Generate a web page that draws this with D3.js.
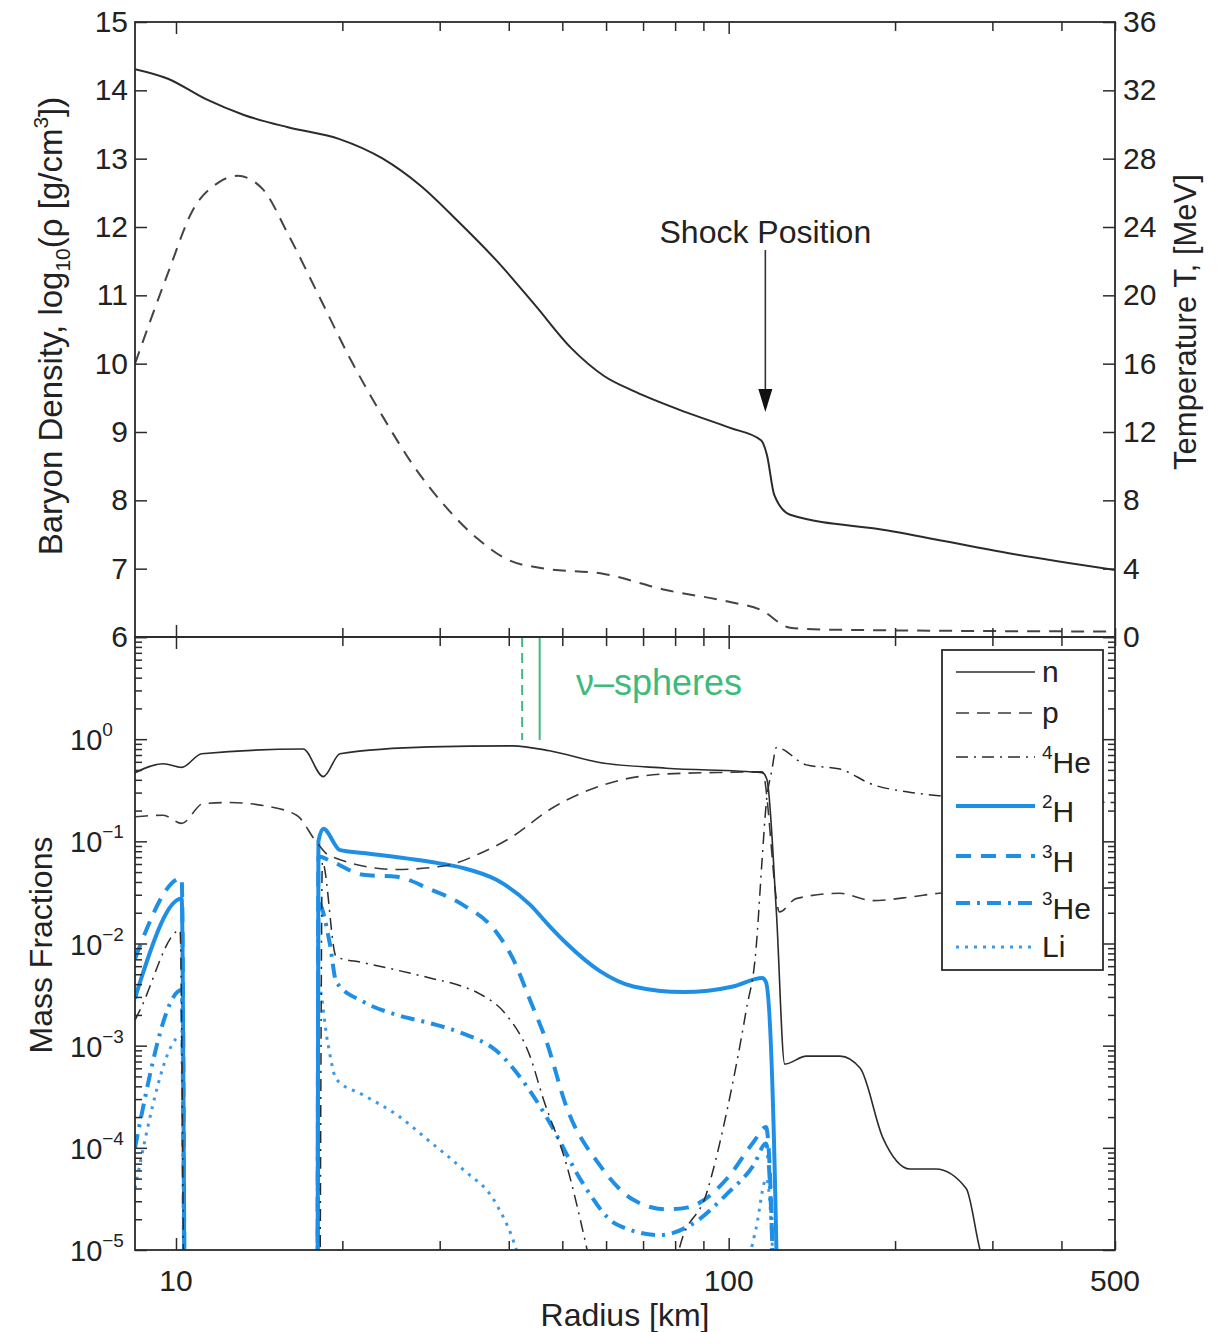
<!DOCTYPE html>
<html>
<head>
<meta charset="utf-8">
<script src="https://cdn.jsdelivr.net/npm/d3@7"></script>
<style>
  body { margin: 0; background: #fff; }
  text { font-family: "Liberation Sans", Arial, Helvetica, sans-serif; fill: #222; }
</style>
</head>
<body>
<svg id="chart" width="1222" height="1332"></svg>
<script>
// ---------------- DATA ----------------
// Top panel: baryon density (log10 rho) vs radius
const densityRadius = [8.43, 9.67, 11.33, 13.27, 15.94, 19.71, 23.67, 27.74, 32.5, 38.1, 44.6, 52.0, 59.5, 67.7, 83.6, 100.6, 114.4, 117.3, 120.9, 129.2, 194, 329, 500];
const densityLog    = [14.31, 14.17, 13.87, 13.64, 13.46, 13.29, 13.0, 12.6, 12.07, 11.5, 10.86, 10.22, 9.82, 9.59, 9.29, 9.06, 8.88, 8.66, 8.08, 7.79, 7.56, 7.21, 6.98];

// Top panel: temperature (MeV) vs radius
const tempRadius = [8.43, 9.67, 10.73, 11.93, 12.92, 14.37, 15.94, 18.18, 20.73, 23.67, 27.0, 30.8, 35.1, 40.0, 45.7, 59.5, 77.0, 100.6, 114.4, 129.2, 149, 500];
const temperature = [16.0, 21.3, 25.0, 26.6, 27.0, 26.2, 23.6, 19.9, 16.2, 12.9, 9.95, 7.6, 5.76, 4.5, 4.04, 3.69, 2.75, 2.05, 1.58, 0.54, 0.43, 0.32];

// Bottom panel: mass fractions vs radius
const nRadius = [8.43, 9.48, 10.24, 11.13, 16.99, 18.47, 19.81, 28.8, 40.6, 47.4, 58.4, 77.1, 115.0, 117.3, 122, 126.3, 138.2, 159, 173, 190, 213, 237, 269, 285, 305];
const nFrac   = [0.47, 0.575, 0.53, 0.72, 0.80, 0.43, 0.72, 0.84, 0.86, 0.77, 0.59, 0.52, 0.47, 0.40, 0.020, 6.6e-4, 7.9e-4, 7.9e-4, 6.0e-4, 1.26e-4, 6.2e-5, 6.2e-5, 4.0e-5, 1.0e-5, 4e-6];

const pRadius = [8.43, 9.48, 10.24, 11.2, 12.52, 14.38, 16.53, 17.96, 18.98, 25.06, 30.85, 35.46, 40.7, 47.4, 58.4, 77.1, 101.7, 115, 123.6, 132.4, 159, 182, 216, 240, 500];
const pFrac   = [0.174, 0.18, 0.15, 0.234, 0.24, 0.224, 0.18, 0.098, 0.072, 0.053, 0.058, 0.076, 0.112, 0.204, 0.347, 0.457, 0.474, 0.479, 0.0204, 0.0275, 0.031, 0.0263, 0.0288, 0.031, 0.035];

const he4Radius = [8.43, 8.61, 10.17, 10.45, 18.1, 18.4, 19.5, 21.8, 28.8, 33.0, 35.5, 39.6, 43.7, 46.2, 50.9, 55.3, 58, 78, 81.3, 91.2, 99.6, 107.6, 112.0, 115, 116.8, 119.8, 122, 138.2, 159, 182, 210, 240, 500];
const he4Frac   = [1.78e-3, 2.24e-3, 0.0135, 1e-8, 1e-8, 0.063, 7.4e-3, 6.5e-3, 4.6e-3, 3.8e-3, 3.2e-3, 2.0e-3, 7.9e-4, 3.0e-4, 6.8e-5, 1.07e-5, 3.2e-6, 3.2e-6, 1.0e-5, 3.6e-5, 2.5e-4, 2.24e-3, 8.5e-3, 0.069, 0.22, 0.51, 0.83, 0.56, 0.51, 0.36, 0.305, 0.28, 0.24];

const h2Radius = [8.43, 8.61, 10.24, 10.45, 18.0, 18.1, 18.47, 19.81, 21.8, 28.8, 33.0, 38.0, 43.7, 47.4, 50.9, 58.4, 67.2, 82.8, 101.8, 115, 116.8, 122, 123];
const h2Frac   = [2.9e-3, 4.2e-3, 0.0275, 1e-8, 1e-8, 0.1, 0.133, 0.082, 0.077, 0.063, 0.055, 0.042, 0.024, 0.0148, 0.01, 5.4e-3, 3.8e-3, 3.35e-3, 3.8e-3, 4.6e-3, 4.2e-3, 1e-5, 1e-8];

const h3Radius = [8.43, 10.24, 10.45, 18.0, 18.1, 19.2, 21.8, 25.1, 28.8, 33.0, 38.0, 40.7, 43.7, 46.8, 50.9, 58.4, 67.2, 77.1, 84, 99.6, 111, 116.8, 120, 121];
const h3Frac   = [7.1e-3, 0.0437, 1e-8, 1e-8, 0.071, 0.063, 0.047, 0.045, 0.034, 0.024, 0.0129, 7.1e-3, 2.8e-3, 1.1e-3, 2.5e-4, 6.8e-5, 3.1e-5, 2.5e-5, 2.6e-5, 5.1e-5, 1.15e-4, 1.6e-4, 1e-5, 1e-8];

const he3Radius = [8.43, 10.24, 10.45, 18.0, 18.1, 18.98, 19.5, 21.8, 25.1, 28.8, 33.0, 38.0, 43.7, 47.4, 54.6, 62.5, 75.1, 86, 99.6, 111, 116.8, 120, 121];
const he3Frac   = [1e-4, 3.5e-3, 1e-8, 1e-8, 0.025, 0.01, 4.2e-3, 2.7e-3, 2.0e-3, 1.66e-3, 1.32e-3, 8.9e-4, 3.6e-4, 1.78e-4, 4.4e-5, 1.8e-5, 1.4e-5, 1.8e-5, 3.6e-5, 6.8e-5, 1.1e-4, 1e-5, 1e-8];

const liRadius = [8.43, 10.24, 10.45, 18.0, 18.1, 18.8, 19.5, 21.8, 25.1, 28.8, 33.0, 38.0, 41.3, 44, 100, 112, 117, 120, 121];
const liFrac   = [4e-5, 1.26e-3, 1e-8, 1e-8, 4e-3, 1.1e-3, 4.7e-4, 3.3e-4, 2.1e-4, 1.15e-4, 6.2e-5, 2.8e-5, 1e-5, 2.5e-6, 2.5e-6, 1.6e-5, 5e-5, 1e-5, 1e-8];

// neutrino spheres (radius, km)
const nuSphereRadii = [42.3, 45.5];
const shockRadius = 116.5;

// tick values / labels
const densityTicks = [6, 7, 8, 9, 10, 11, 12, 13, 14, 15];
const tempTicks = [0, 4, 8, 12, 16, 20, 24, 28, 32, 36];
const massDecades = [1e-5, 1e-4, 1e-3, 1e-2, 1e-1, 1, 10];
const massLabelExps = ["0", "\u22121", "\u22122", "\u22123", "\u22124", "\u22125"];
const radiusMajor = [10, 100];
const radiusMinor = [20, 30, 40, 50, 60, 70, 80, 90, 200, 300, 400, 500];
const radiusLabels = [10, 100, 500];

const legendItems = [
  { key: "n",   sup: "",  base: "n" },
  { key: "p",   sup: "",  base: "p" },
  { key: "he4", sup: "4", base: "He" },
  { key: "h2",  sup: "2", base: "H" },
  { key: "h3",  sup: "3", base: "H" },
  { key: "he3", sup: "3", base: "He" },
  { key: "li",  sup: "",  base: "Li" }
];

// ---------------- LAYOUT & STYLE ----------------
const L = 135, R = 1115, T1 = 22, B1 = 637, B2 = 1250;
const BLACK = "#2b2b2b", BLUE = "#1f8fe6", GREEN = "#3dbb7c";

const styles = {
  n:   { color: BLACK, width: 1.6, dash: null },
  p:   { color: "#3a3a3a", width: 1.6, dash: "13,8" },
  he4: { color: BLACK, width: 1.5, dash: "12,6,2,6" },
  h2:  { color: BLUE, width: 4, dash: null },
  h3:  { color: BLUE, width: 4, dash: "15,10" },
  he3: { color: BLUE, width: 4, dash: "14,7,3,7" },
  li:  { color: "#3a9ae8", width: 3, dash: "3,6" }
};

const svg = d3.select("#chart");

const x = d3.scaleLog().domain([8.43, 500]).range([L, R]);
const yRho = d3.scaleLinear().domain([6, 15]).range([B1, T1]);
const yT = d3.scaleLinear().domain([0, 36]).range([B1, T1]);
const yM = d3.scaleLog().domain([1e-5, 10]).range([B2, B1]);

const defs = svg.append("defs");
defs.append("clipPath").attr("id", "clipTop").append("rect")
  .attr("x", L).attr("y", T1).attr("width", R - L).attr("height", B1 - T1);
defs.append("clipPath").attr("id", "clipBot").append("rect")
  .attr("x", L).attr("y", B1).attr("width", R - L).attr("height", B2 - B1);

function zip(a, b) { return a.map((v, i) => [v, b[i]]); }

// ---------------- TOP PANEL ----------------
const topG = svg.append("g").attr("clip-path", "url(#clipTop)");
const lineRho = d3.line().x(d => x(d[0])).y(d => yRho(d[1])).curve(d3.curveMonotoneX);
const lineT = d3.line().x(d => x(d[0])).y(d => yT(d[1])).curve(d3.curveMonotoneX);

topG.append("path").datum(zip(densityRadius, densityLog))
  .attr("d", lineRho).attr("fill", "none").attr("stroke", BLACK).attr("stroke-width", 2);
topG.append("path").datum(zip(tempRadius, temperature))
  .attr("d", lineT).attr("fill", "none").attr("stroke", "#444").attr("stroke-width", 2)
  .attr("stroke-dasharray", "13,9");

// ---------------- BOTTOM PANEL ----------------
const botG = svg.append("g").attr("clip-path", "url(#clipBot)");
const lineM = d3.line().x(d => x(d[0])).y(d => yM(d[1])).curve(d3.curveMonotoneX);

const series = [
  { key: "li",  r: liRadius,  v: liFrac },
  { key: "he3", r: he3Radius, v: he3Frac },
  { key: "h3",  r: h3Radius,  v: h3Frac },
  { key: "h2",  r: h2Radius,  v: h2Frac },
  { key: "he4", r: he4Radius, v: he4Frac },
  { key: "p",   r: pRadius,   v: pFrac },
  { key: "n",   r: nRadius,   v: nFrac }
];
series.forEach(s => {
  const st = styles[s.key];
  botG.append("path").datum(zip(s.r, s.v))
    .attr("d", lineM).attr("fill", "none")
    .attr("stroke", st.color).attr("stroke-width", st.width)
    .attr("stroke-dasharray", st.dash)
    .attr("stroke-linejoin", "round");
});

// neutrino spheres
nuSphereRadii.forEach((r, i) => {
  svg.append("line").attr("x1", x(r)).attr("x2", x(r)).attr("y1", B1).attr("y2", B1 + 103)
    .attr("stroke", GREEN).attr("stroke-width", 2)
    .attr("stroke-dasharray", i === 0 ? "10,6" : null);
});
svg.append("text").attr("x", 576).attr("y", 695).attr("font-size", 36)
  .style("fill", GREEN).text("\u03bd\u2013spheres");

// ---------------- AXES ----------------
function styleAxis(g, fs) {
  g.select(".domain").remove();
  g.selectAll(".tick line").attr("stroke", BLACK).attr("stroke-width", 1.5);
  g.attr("font-size", fs).attr("font-family", "Liberation Sans, Arial, sans-serif");
  g.selectAll("text").style("fill", "#222");
}

// top panel left (density)
svg.append("g").attr("transform", `translate(${L},0)`)
  .call(d3.axisLeft(yRho).tickValues(densityTicks).tickSize(-12).tickPadding(7).tickFormat(d3.format("d")))
  .call(g => styleAxis(g, 30));
// top panel right (temperature)
svg.append("g").attr("transform", `translate(${R},0)`)
  .call(d3.axisRight(yT).tickValues(tempTicks).tickSize(-12).tickPadding(8).tickFormat(d3.format("d")))
  .call(g => styleAxis(g, 30));

// x ticks along the four horizontal edges
[[T1, "top"], [B1, "bottom"], [B1, "top"], [B2, "bottom"]].forEach(([yy, side]) => {
  const mk = side === "top" ? d3.axisTop : d3.axisBottom;
  svg.append("g").attr("transform", `translate(0,${yy})`)
    .call(mk(x).tickValues(radiusMinor).tickSize(-9).tickFormat(""))
    .call(g => styleAxis(g, 30));
  svg.append("g").attr("transform", `translate(0,${yy})`)
    .call(mk(x).tickValues(radiusMajor).tickSize(-12).tickFormat(""))
    .call(g => styleAxis(g, 30));
});

// bottom panel y ticks (major decades + minor 2..9)
const massMinor = [];
massDecades.slice(0, -1).forEach(d => { for (let k = 2; k <= 9; k++) massMinor.push(d * k); });
[[L, d3.axisLeft], [R, d3.axisRight]].forEach(([xx, mk]) => {
  svg.append("g").attr("transform", `translate(${xx},0)`)
    .call(mk(yM).tickValues(massDecades).tickSize(-12).tickFormat(""))
    .call(g => styleAxis(g, 30));
  svg.append("g").attr("transform", `translate(${xx},0)`)
    .call(mk(yM).tickValues(massMinor).tickSize(-7).tickFormat(""))
    .call(g => styleAxis(g, 30));
});

// bottom panel y labels 10^e
massDecades.slice(0, 6).reverse().forEach((d, i) => {
  const t = svg.append("text").attr("x", 70).attr("y", yM(d) + 11).attr("font-size", 29);
  t.append("tspan").text("10");
  t.append("tspan").attr("font-size", 19).attr("dy", -14).text(massLabelExps[i]);
});

// x labels
radiusLabels.forEach(r => {
  svg.append("text").attr("x", x(r)).attr("y", 1291).attr("font-size", 30)
    .attr("text-anchor", "middle").text(r);
});

// frames
svg.append("rect").attr("x", L).attr("y", T1).attr("width", R - L).attr("height", B1 - T1)
  .attr("fill", "none").attr("stroke", BLACK).attr("stroke-width", 1.8);
svg.append("rect").attr("x", L).attr("y", B1).attr("width", R - L).attr("height", B2 - B1)
  .attr("fill", "none").attr("stroke", BLACK).attr("stroke-width", 1.8);

// ---------------- AXIS TITLES ----------------
const yl = svg.append("text").attr("transform", "translate(62,326) rotate(-90)")
  .attr("text-anchor", "middle").attr("font-size", 33);
yl.append("tspan").text("Baryon Density, log");
yl.append("tspan").attr("font-size", 21).attr("dy", 8).text("10");
yl.append("tspan").attr("dy", -8).text("(\u03c1 [g/cm");
yl.append("tspan").attr("font-size", 21).attr("dy", -14).text("3");
yl.append("tspan").attr("dy", 14).text("])");

svg.append("text").attr("transform", "translate(1196,322) rotate(-90)")
  .attr("text-anchor", "middle").attr("font-size", 31).text("Temperature T, [MeV]");

svg.append("text").attr("transform", "translate(52,945) rotate(-90)")
  .attr("text-anchor", "middle").attr("font-size", 32).text("Mass Fractions");

svg.append("text").attr("x", 625).attr("y", 1326)
  .attr("text-anchor", "middle").attr("font-size", 32).text("Radius [km]");

// ---------------- SHOCK ANNOTATION ----------------
const sx = x(shockRadius);
svg.append("text").attr("x", sx).attr("y", 243).attr("text-anchor", "middle")
  .attr("font-size", 32).text("Shock Position");
svg.append("line").attr("x1", sx).attr("x2", sx).attr("y1", 250).attr("y2", 396)
  .attr("stroke", "#333").attr("stroke-width", 1.6);
svg.append("path").attr("d", `M${sx - 7},389 L${sx + 7},389 L${sx},412 Z`).attr("fill", "#111");

// ---------------- LEGEND ----------------
const lg = svg.append("g");
lg.append("rect").attr("x", 942).attr("y", 650).attr("width", 161).attr("height", 320)
  .attr("fill", "#fff").attr("stroke", BLACK).attr("stroke-width", 1.8);
const legendRows = [672, 713, 757, 806, 856, 903, 947];
legendItems.forEach((it, i) => {
  const st = styles[it.key];
  const yy = legendRows[i];
  lg.append("line").attr("x1", 956).attr("x2", 1035).attr("y1", yy).attr("y2", yy)
    .attr("stroke", st.color).attr("stroke-width", st.width).attr("stroke-dasharray", st.dash);
  const t = lg.append("text").attr("x", 1042).attr("y", yy + (it.sup ? 16 : 10)).attr("font-size", 30);
  if (it.sup) {
    t.append("tspan").attr("font-size", 19).attr("dy", -14).text(it.sup);
    t.append("tspan").attr("dy", 14).text(it.base);
  } else {
    t.append("tspan").text(it.base);
  }
});
</script>
</body>
</html>
